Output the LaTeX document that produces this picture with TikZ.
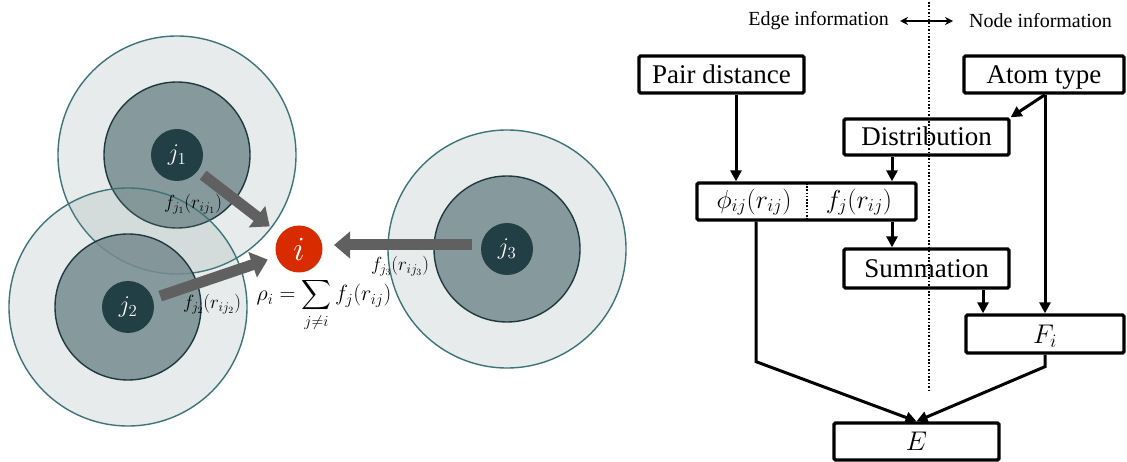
\RequirePackage{fix-cm}
\documentclass[tikz,border=0pt]{standalone}
\usepackage{exscale}
\usepackage{fontspec}
\setmainfont{Liberation Serif}
\usetikzlibrary{arrows.meta}
\definecolor{outerfill}{HTML}{7F9595}
\definecolor{outerline}{HTML}{3D7478}
\definecolor{innerfill}{HTML}{768B8F}
\definecolor{innerline}{HTML}{1E3A3E}
\definecolor{jfill}{HTML}{213F44}
\definecolor{ired}{HTML}{D92B00}
\definecolor{arrowgray}{HTML}{606060}
\begin{document}
\begin{tikzpicture}[x=1pt,y=-1pt,
  outerc/.style={circle, draw=outerline, line width=1.4pt, fill=outerfill, fill opacity=0.18, draw opacity=1, minimum size=238pt, inner sep=0pt},
  innerc/.style={circle, draw=innerline, line width=1.4pt, fill=innerfill, fill opacity=0.85, draw opacity=1, minimum size=146pt, inner sep=0pt},
  jnode/.style={circle, fill=jfill, minimum size=52pt, inner sep=0pt, text=white, font=\fontsize{24}{26}\selectfont},
  inode/.style={circle, fill=ired, minimum size=47pt, inner sep=0pt, text=white, font=\fontsize{34}{36}\selectfont},
  bigarrow/.style={draw=arrowgray, line width=11pt, -{Triangle[length=16pt,width=26pt]}},
  flabel/.style={inner sep=0pt, font=\fontsize{19}{21}\selectfont},
  box/.style={draw, line width=3.3pt, rounded corners=1.5pt, inner sep=0pt, minimum width=165pt, minimum height=37pt, text height=18pt, text depth=0pt, font=\fontsize{27}{30}\selectfont},
  conn/.style={line width=3pt, -{Triangle[length=11pt,width=11pt]}},
  header/.style={inner sep=0pt, font=\fontsize{20}{24}\selectfont}
]
\fill[white] (0,0) rectangle (1127,462);
\useasboundingbox (0,0) rectangle (1127,462);

% ---------- left: neighbourhoods ----------
\node[outerc] (j1o) at (177,155) {};
\node[innerc] (j1m) at (177,155) {};
\node[jnode] (j1) at (177,155) {$j_1$};
\node[outerc] (j2o) at (128,307) {};
\node[innerc] (j2m) at (128,307) {};
\node[jnode] (j2) at (128,307) {$j_2$};
\node[outerc] (j3o) at (507,249) {};
\node[innerc] (j3m) at (507,249) {};
\node[jnode] (j3) at (507,249) {$j_3$};
\node[inode] (i) at (299,249) {$i$};

\draw[bigarrow, shorten <=33pt, shorten >=37pt] (j1.center) -- (i.center);
\draw[bigarrow, shorten <=34pt, shorten >=33pt] (j2.center) -- (i.center);
\draw[bigarrow, shorten <=35pt, shorten >=35pt] ([yshift=4pt]j3.center) -- ([yshift=4pt]i.center);

\node[flabel] (l1) at (193,204) {$f_{j_1}(r_{ij_1})$};
\node[flabel] (l2) at (212,304) {$f_{j_2}(r_{ij_2})$};
\node[flabel] (l3) at (400,266) {$f_{j_3}(r_{ij_3})$};
\node[inner sep=0pt, font=\fontsize{22}{24}\selectfont] (rho) at (324,305) {$\displaystyle \rho_i = \sum_{j\neq i} f_j(r_{ij})$};

% ---------- right: flow chart ----------
\node[header, anchor=east] (edgeinfo) at (889,21) {Edge information};
\node[header, anchor=west] (nodeinfo) at (969,21) {Node information};
\draw[line width=1.5pt, {Stealth[length=8pt,width=8pt]}-{Stealth[length=8pt,width=8pt]}, shorten <=11pt, shorten >=16pt] (edgeinfo.east) -- (nodeinfo.west);
\coordinate (dtop) at (929,2);
\coordinate (dbot) at (929,390);
\draw[line width=1.6pt, dash pattern=on 1.6pt off 1.8pt] (dtop) -- (dbot);

\node[box] (pd) at (721.5,74.5) {Pair distance};
\node[box, minimum width=160pt] (at) at (1044,74.5) {Atom type};
\node[box, minimum height=36pt] (dist) at (926.5,137) {Distribution};
\node[box, minimum width=219pt] (phi) at (806.5,201.5) {};
\node[inner sep=0pt, font=\fontsize{26}{28}\selectfont] (phiL) at (754,202) {$\phi_{ij}(r_{ij})$};
\node[inner sep=0pt, font=\fontsize{26}{28}\selectfont] (phiR) at (859,202) {$f_j(r_{ij})$};
\draw[line width=1.5pt, dash pattern=on 1.6pt off 1.6pt, shorten <=1.7pt, shorten >=1.7pt] ([xshift=0.5pt]phi.north) -- ([xshift=0.5pt]phi.south);
\node[box, minimum height=39pt] (sum) at (926.5,268.5) {Summation};
\node[box, minimum width=158pt, minimum height=38pt] (Fi) at (1045,334) {$F_i$};
\node[box] (E) at (916.5,441.5) {$E$};

\draw[conn] ([xshift=14.5pt]pd.south) -- ([xshift=14.5pt]pd.south |- phi.north);
\draw[conn] ([xshift=-34.5pt]dist.south) -- ([xshift=-34.5pt]dist.south |- phi.north);
\draw[conn] (at.south -| Fi.north) -- (dist.north east);
\draw[conn] (at.south -| Fi.north) -- (Fi.north);
\draw[conn] ([xshift=-34.5pt]sum.north |- phi.south) -- ([xshift=-34.5pt]sum.north);
\draw[conn] ([xshift=56.5pt]sum.south) -- ([xshift=56.5pt]sum.south |- Fi.north);
\draw[conn] ([xshift=-50.5pt]phi.south) -- ++(0,140) -- (E.north);
\draw[conn] (Fi.south) -- ++(0,12) -- (E.north);
\end{tikzpicture}
\end{document}
